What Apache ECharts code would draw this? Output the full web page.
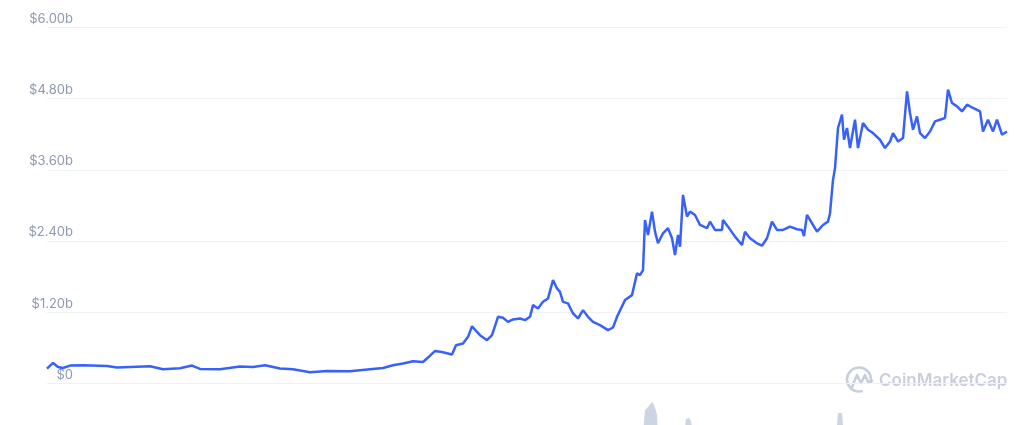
<!DOCTYPE html>
<html>
<head>
<meta charset="utf-8">
<script src="https://cdn.jsdelivr.net/npm/echarts@6/dist/echarts.min.js"></script>
<style>
html,body{margin:0;padding:0;background:#fff;}
#chart{width:1035px;height:425px;}
</style>
</head>
<body>
<div id="chart"></div>
<script>
// Day offsets from start of chart
const days = [0,6,11,16,23,36,60,70,103,116,133,145,153,173,193,206,218,233,246,263,280,303,323,336,346,356,366,376,381,388,395,405,409,416,421,425,429,433,440,445,451,456,461,466,473,478,483,486,491,496,501,506,510,513,516,521,526,531,536,541,546,553,561,566,570,578,585,590,593,596,598,601,605,608,611,616,621,625,628,631,633,636,640,643,648,653,660,663,668,675,676,681,688,695,698,703,710,715,720,725,730,736,743,750,755,757,760,765,770,776,781,783,786,788,791,795,797,800,803,808,811,816,821,826,833,838,843,846,851,856,860,863,866,870,873,878,883,888,893,898,901,905,910,915,920,926,933,936,941,946,950,955,960];
// Market cap in billions USD
const marketCap = [0.248,0.343,0.275,0.259,0.299,0.304,0.292,0.265,0.287,0.237,0.254,0.299,0.242,0.237,0.282,0.275,0.304,0.248,0.237,0.186,0.208,0.203,0.237,0.259,0.304,0.333,0.372,0.360,0.434,0.546,0.529,0.485,0.642,0.671,0.783,0.963,0.884,0.811,0.727,0.811,1.121,1.104,1.036,1.077,1.093,1.065,1.121,1.318,1.262,1.374,1.431,1.741,1.600,1.543,1.374,1.347,1.178,1.093,1.234,1.121,1.036,0.980,0.896,0.941,1.121,1.403,1.487,1.854,1.825,1.910,2.755,2.501,2.895,2.557,2.361,2.530,2.615,2.446,2.163,2.501,2.304,3.177,2.811,2.895,2.839,2.670,2.615,2.726,2.586,2.586,2.755,2.642,2.473,2.332,2.557,2.446,2.361,2.320,2.446,2.726,2.586,2.586,2.642,2.598,2.586,2.484,2.839,2.699,2.557,2.670,2.726,2.868,3.431,3.629,4.305,4.530,4.107,4.305,3.967,4.445,3.967,4.389,4.276,4.220,4.107,3.967,4.078,4.220,4.078,4.136,4.923,4.558,4.276,4.501,4.220,4.136,4.247,4.416,4.445,4.474,4.952,4.727,4.670,4.585,4.699,4.643,4.585,4.247,4.445,4.247,4.445,4.192,4.247];
// Volume (relative units, mostly below the visible area)
const volDays = [0,300,400,590,596,597,598,600,601,603,605,607,609,610,611,620,636,638,639,642,644,645,647,700,780,789,790,791,793,795,796,797,850,960];
const volume = [10,15,30,40,60,74,85,84,88,90,93,90,84,80,60,45,55,68,76,77,74,68,50,40,50,55,70,82,83,82,70,55,45,40];
const yTicks = [0,1.2,2.4,3.6,4.8,6.0];

const priceData = days.map((d,i)=>[d, marketCap[i]]);
const volData = volDays.map((d,i)=>[d, volume[i]]);

const chart = echarts.init(document.getElementById('chart'), null, {renderer:'canvas'});
const labelColor = '#8e99ae';
const wm = '#c8cfdc';
chart.setOption({
  animation:false,
  backgroundColor:'#ffffff',
  grid:[
    {left:47, right:28, top:27.5, bottom:41.7},
    {left:47, right:28, top:395, bottom:0}
  ],
  xAxis:[
    {type:'value', gridIndex:0, min:0, max:960, show:false},
    {type:'value', gridIndex:1, min:0, max:960, show:false}
  ],
  yAxis:[
    {type:'value', gridIndex:0, min:0, max:6, interval:1.2,
     axisLine:{show:false}, axisTick:{show:false},
     splitLine:{lineStyle:{color:'#eff2f5', width:1}},
     axisLabel:{
       color:labelColor, fontSize:13, fontFamily:'Inter, "Noto Sans", sans-serif',
       align:'right', verticalAlign:'bottom', margin:-26, padding:[0,0,2,0],
       formatter:function(v){ return v===0 ? '$0' : '$' + v.toFixed(2) + 'b'; }
     }},
    {type:'value', gridIndex:1, min:70, max:100, show:false}
  ],
  series:[
    {type:'line', xAxisIndex:1, yAxisIndex:1, data:volData, symbol:'none', clip:true,
     lineStyle:{width:0}, areaStyle:{color:'#cdd4e2', opacity:1, origin:'start'}, silent:true},
    {type:'line', xAxisIndex:0, yAxisIndex:0, data:priceData, symbol:'none',
     lineStyle:{color:'#3861fb', width:2.5}, silent:true}
  ],
  graphic:[
    {type:'arc', shape:{cx:859, cy:379.5, r:12, startAngle:1.25, endAngle:6.63, clockwise:true},
     style:{stroke:wm, lineWidth:2.6, fill:null}},
    {type:'polyline', shape:{points:[[852,387],[857,375],[861,383],[865,375],[868,382],[872,381]]},
     style:{stroke:wm, lineWidth:2.6, fill:null, lineJoin:'round', lineCap:'round'}},
    {type:'text', x:879, y:380.5,
     style:{text:'CoinMarketCap', fill:wm, fontSize:17, fontWeight:600,
            fontFamily:'Inter, "Noto Sans", sans-serif', textVerticalAlign:'middle'}}
  ]
});
</script>
</body>
</html>
